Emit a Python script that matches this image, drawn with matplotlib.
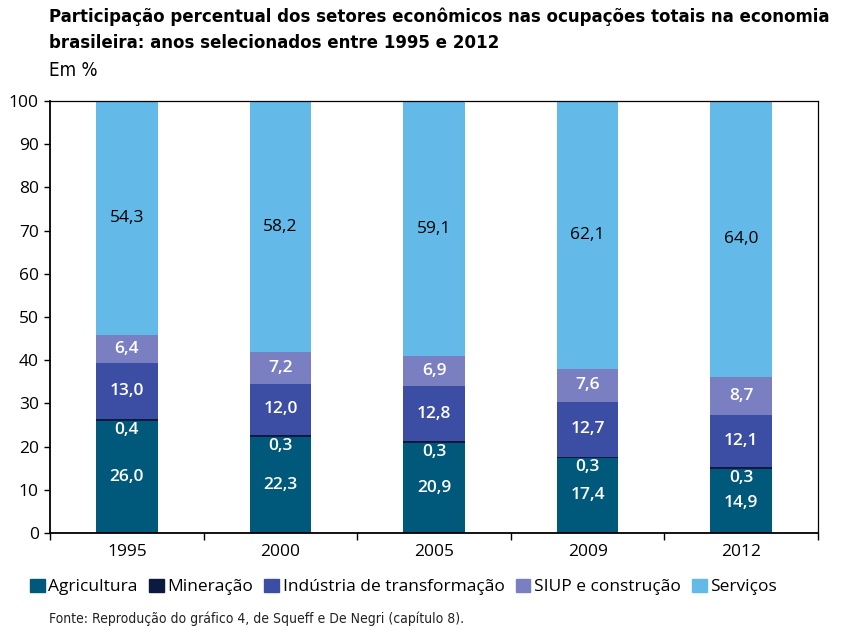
import numpy as np
import matplotlib.pyplot as plt
from matplotlib.patches import Patch

# ── Data ─────────────────────────────────────────────────────────────────────
ANOS        = ["1995", "2000", "2005", "2009", "2012"]
AGRICULTURA = [26.0, 22.3, 20.9, 17.4, 14.9]
MINERACAO   = [0.4, 0.3, 0.3, 0.3, 0.3]
INDUSTRIA   = [13.0, 12.0, 12.8, 12.7, 12.1]
SIUP        = [6.4, 7.2, 6.9, 7.6, 8.7]
SERVICOS    = [54.3, 58.2, 59.1, 62.1, 64.0]

SETORES = ["Agricultura", "Mineração", "Indústria de transformação",
           "SIUP e construção", "Serviços"]
CORES = ["#00587a", "#0b1a3e", "#3b4ea3", "#7a7fc2", "#63b9e8"]

BODY = ["Open Sans", "DejaVu Sans"]
NARROW = ["DejaVu Sans"]
plt.rcParams["font.family"] = BODY

fig = plt.figure(figsize=(8.47, 6.33), dpi=100)
ax = fig.add_axes([50/847, 100/633, 768/847, 432/633])

x = np.arange(len(ANOS))
w = 0.40
series = [AGRICULTURA, MINERACAO, INDUSTRIA, SIUP, SERVICOS]
bottom = np.zeros(len(ANOS))
for vals, cor, nome in zip(series, CORES, SETORES):
    vals = np.array(vals)
    ax.bar(x, vals, w, bottom=bottom, color=cor, label=nome, linewidth=0)
    for i, v in enumerate(vals):
        txt = f"{v:.1f}".replace(".", ",")
        if nome == "Mineração":
            y = bottom[i] - 2.1
            col = "white"
        elif nome == "Agricultura":
            y = v / 2 - (0.6 if v < 16 else 0)
            col = "white"
        else:
            y = bottom[i] + v / 2
            col = "black" if nome == "Serviços" else "white"
        ax.text(i, y, txt, ha="center", va="center", color=col,
                fontsize=12.5, fontweight="semibold" if col == "white" else "normal")
    bottom += vals

ax.set_xlim(-0.5, len(ANOS) - 0.5)
ax.set_ylim(0, 100)
ax.set_yticks(np.arange(0, 101, 10))
ax.set_xticks(x)
ax.set_xticklabels(ANOS)
ax.set_xticks(np.arange(-0.5, len(ANOS), 1), minor=True)
ax.tick_params(axis="x", which="major", length=0, pad=8, labelsize=12.5)
ax.tick_params(axis="x", which="minor", length=5, width=1)
ax.tick_params(axis="y", length=4, width=1, labelsize=12.5, pad=4)
for s in ["left", "bottom"]:
    ax.spines[s].set_linewidth(1.3)
for s in ["top", "right"]:
    ax.spines[s].set_linewidth(0.9)

# ── Titles ───────────────────────────────────────────────────────────────────
fig.text(49/847, 1 - 8/633,
         "Participação percentual dos setores econômicos nas ocupações totais na economia\n"
         "brasileira: anos selecionados entre 1995 e 2012",
         ha="left", va="top", fontsize=13.3, fontweight="bold",
         family=NARROW, fontstretch="condensed", linespacing=1.55)
fig.text(49/847, 1 - 70/633, "Em %", ha="left", va="center",
         fontsize=13.5, family=NARROW, fontstretch="condensed")

# ── Legend ───────────────────────────────────────────────────────────────────
handles = [Patch(color=c, label=n) for c, n in zip(CORES, SETORES)]
fig.legend(handles=handles, loc="center left", bbox_to_anchor=(30/847, 1 - 587/633),
           ncol=5, frameon=False, fontsize=12.5, handlelength=0.85, handleheight=0.85,
           handletextpad=0.2, columnspacing=0.65, borderpad=0, borderaxespad=0)

fig.text(49/847, 1 - 619/633,
         "Fonte: Reprodução do gráfico 4, de Squeff e De Negri (capítulo 8).",
         ha="left", va="center", fontsize=10, family=NARROW,
         fontstretch="condensed", color="#222222")

fig.savefig("out.png", dpi=100)
